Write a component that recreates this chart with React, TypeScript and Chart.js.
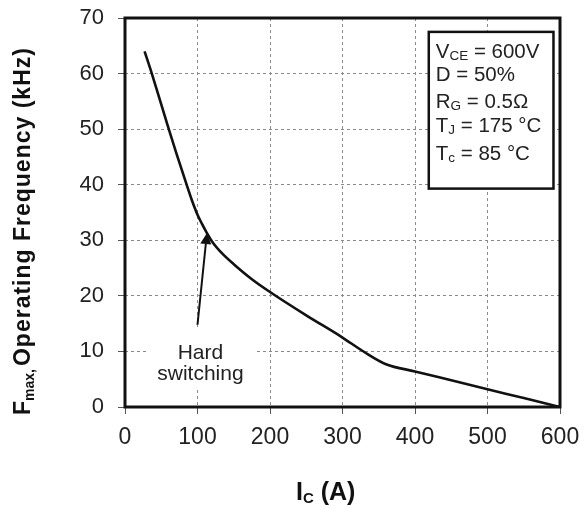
import React, { useEffect, useRef } from 'react';
import { Chart, registerables } from 'chart.js';

Chart.register(...registerables);

// ---- Data ----
const collectorCurrentA = [27, 37, 48, 59, 71, 85, 92, 100, 106, 113, 120, 135, 150, 175, 200, 250, 300, 330, 360, 400, 450, 500, 550, 600];
const maxFrequencyKHz = [64, 60, 55.3, 50.6, 45.6, 40, 37.3, 34.6, 33.0, 31.3, 29.8, 27.5, 25.7, 23.0, 20.7, 16.5, 12.5, 9.9, 7.7, 6.4, 4.8, 3.2, 1.6, 0];
const xTickValues = [0, 100, 200, 300, 400, 500, 600];
const yTickValues = [0, 10, 20, 30, 40, 50, 60, 70];

const conditionMain = ['V', 'D = 50%', 'R', 'T', 'T'];
const conditionSub = ['CE', '', 'G', 'J', 'c'];
const conditionRest = [' = 600V', '', ' = 0.5\u03A9', ' = 175 \u00B0C', ' = 85 \u00B0C'];

const hardLabelLines = ['Hard', 'switching'];

// annotation anchors (data space)
const HARD_LABEL_AT = { x: 104, y: 8.6 };
const ARROW_FROM = { x: 100, y: 14.8 };
const ARROW_TO = { x: 113, y: 31.3 };
const COND_BOX = { x0: 419, x1: 591, y0: 67.5, y1: 39.3 };

const FONT = '"Liberation Sans", Arial, Helvetica, sans-serif';

const overlayPlugin = {
  id: 'overlay',
  afterDraw(chart: any) {
    const { ctx, chartArea: ca, scales } = chart;
    const xs = scales.x;
    const ys = scales.y;
    ctx.save();

    // Hard switching label with white background
    const hx = xs.getPixelForValue(HARD_LABEL_AT.x);
    const hy = ys.getPixelForValue(HARD_LABEL_AT.y);
    ctx.fillStyle = '#ffffff';
    ctx.fillRect(hx - 53, hy - 32, 108, 62);
    ctx.fillStyle = '#222';
    ctx.font = `21px ${FONT}`;
    ctx.textAlign = 'center';
    ctx.textBaseline = 'alphabetic';
    ctx.fillText(hardLabelLines[0], hx, hy);
    ctx.fillText(hardLabelLines[1], hx, hy + 21);

    // Arrow
    const ax0 = xs.getPixelForValue(ARROW_FROM.x);
    const ay0 = ys.getPixelForValue(ARROW_FROM.y);
    const ax1 = xs.getPixelForValue(ARROW_TO.x);
    const ay1 = ys.getPixelForValue(ARROW_TO.y);
    const ang = Math.atan2(ay1 - ay0, ax1 - ax0);
    const headLen = 11;
    const headHalf = 5.5;
    const bx = ax1 - headLen * Math.cos(ang);
    const by = ay1 - headLen * Math.sin(ang);
    ctx.strokeStyle = '#111';
    ctx.lineWidth = 2;
    ctx.beginPath();
    ctx.moveTo(ax0, ay0);
    ctx.lineTo(bx, by);
    ctx.stroke();
    ctx.fillStyle = '#111';
    ctx.beginPath();
    ctx.moveTo(ax1, ay1);
    ctx.lineTo(bx + headHalf * Math.sin(ang), by - headHalf * Math.cos(ang));
    ctx.lineTo(bx - headHalf * Math.sin(ang), by + headHalf * Math.cos(ang));
    ctx.closePath();
    ctx.fill();

    // Conditions box
    const bx0 = xs.getPixelForValue(COND_BOX.x0);
    const bx1 = xs.getPixelForValue(COND_BOX.x1);
    const by0 = ys.getPixelForValue(COND_BOX.y0);
    const by1 = ys.getPixelForValue(COND_BOX.y1);
    ctx.fillStyle = '#ffffff';
    ctx.fillRect(bx0, by0, bx1 - bx0, by1 - by0);
    ctx.strokeStyle = '#111';
    ctx.lineWidth = 2.5;
    ctx.strokeRect(bx0, by0, bx1 - bx0, by1 - by0);

    const baselineOffsets = [26, 49.5, 76, 100.5, 128.5];
    ctx.fillStyle = '#222';
    ctx.textAlign = 'left';
    for (let i = 0; i < conditionMain.length; i++) {
      let tx = bx0 + 7;
      const ty = by0 + baselineOffsets[i];
      ctx.font = `20.5px ${FONT}`;
      ctx.fillText(conditionMain[i], tx, ty);
      tx += ctx.measureText(conditionMain[i]).width;
      if (conditionSub[i]) {
        ctx.font = `13.5px ${FONT}`;
        ctx.fillText(conditionSub[i], tx, ty + 2);
        tx += ctx.measureText(conditionSub[i]).width;
      }
      if (conditionRest[i]) {
        ctx.font = `20.5px ${FONT}`;
        ctx.fillText(conditionRest[i], tx, ty);
      }
    }

    // Plot frame
    ctx.strokeStyle = '#111';
    ctx.lineWidth = 3;
    ctx.strokeRect(ca.left, ca.top, ca.right - ca.left, ca.bottom - ca.top);

    // Y axis title
    ctx.save();
    ctx.translate(29.5, 415);
    ctx.rotate(-Math.PI / 2);
    ctx.fillStyle = '#111';
    ctx.textAlign = 'left';
    ctx.textBaseline = 'alphabetic';
    let cx = 0;
    ctx.font = `bold 23px ${FONT}`;
    ctx.fillText('F', cx, 0);
    cx += ctx.measureText('F').width;
    ctx.font = `bold 14px ${FONT}`;
    ctx.fillText('max,', cx, 4);
    cx += ctx.measureText('max,').width + 3;
    ctx.font = `bold 23px ${FONT}`;
    (ctx as any).letterSpacing = '1px';
    ctx.fillText('Operating Frequency (kHz)', cx, 0);
    ctx.restore();

    // X axis title
    ctx.fillStyle = '#111';
    ctx.textAlign = 'left';
    ctx.textBaseline = 'alphabetic';
    let ix = 296;
    ctx.font = `bold 25px ${FONT}`;
    ctx.fillText('I', ix, 500);
    ix += ctx.measureText('I').width;
    ctx.font = `bold 15px ${FONT}`;
    ctx.fillText('C', ix, 503);
    ix += ctx.measureText('C').width;
    ctx.font = `bold 25px ${FONT}`;
    ctx.fillText(' (A)', ix, 500);

    ctx.restore();
  },
};

export default function App() {
  const canvasRef = useRef<HTMLCanvasElement | null>(null);

  useEffect(() => {
    const canvas = canvasRef.current;
    if (!canvas) return;
    const chart = new Chart(canvas, {
      type: 'line',
      data: {
        datasets: [
          {
            data: collectorCurrentA.map((x, i) => ({ x, y: maxFrequencyKHz[i] })),
            borderColor: '#111',
            borderWidth: 2.6,
            pointRadius: 0,
            fill: false,
            cubicInterpolationMode: 'monotone',
          },
        ],
      },
      options: {
        responsive: false,
        animation: false,
        events: [],
        layout: { padding: { top: 18, right: 25, left: 0, bottom: 0 } },
        plugins: {
          legend: { display: false },
          tooltip: { enabled: false },
          title: { display: false },
        },
        scales: {
          x: {
            type: 'linear',
            min: 0,
            max: 600,
            afterBuildTicks: (scale: any) => {
              scale.ticks = xTickValues.map((v) => ({ value: v }));
            },
            afterFit: (scale: any) => {
              scale.height = 101;
              scale.paddingLeft = 0;
              scale.paddingRight = 0;
            },
            ticks: {
              font: { family: FONT, size: 23 },
              color: '#222',
              padding: 10,
              maxRotation: 0,
            },
            grid: {
              color: '#8a8a8a',
              lineWidth: 1,
              tickLength: 7,
              tickColor: '#555',
              tickWidth: 1,
            },
            border: { display: false, dash: [3, 3] },
          },
          y: {
            type: 'linear',
            min: 0,
            max: 70,
            afterBuildTicks: (scale: any) => {
              scale.ticks = yTickValues.map((v) => ({ value: v }));
            },
            afterFit: (scale: any) => {
              scale.width = 125;
              scale.paddingTop = 0;
              scale.paddingBottom = 0;
            },
            ticks: {
              font: { family: FONT, size: 22 },
              color: '#222',
              padding: 14,
            },
            grid: {
              color: '#8a8a8a',
              lineWidth: 1,
              tickLength: 7,
              tickColor: '#555',
              tickWidth: 1,
            },
            border: { display: false, dash: [3, 3] },
          },
        },
      },
      plugins: [overlayPlugin],
    } as any);
    return () => chart.destroy();
  }, []);

  return (
    <div style={{ position: 'fixed', left: 0, top: 0, width: 585, height: 508, background: '#fff' }}>
      <canvas ref={canvasRef} width={585} height={508} />
    </div>
  );
}
